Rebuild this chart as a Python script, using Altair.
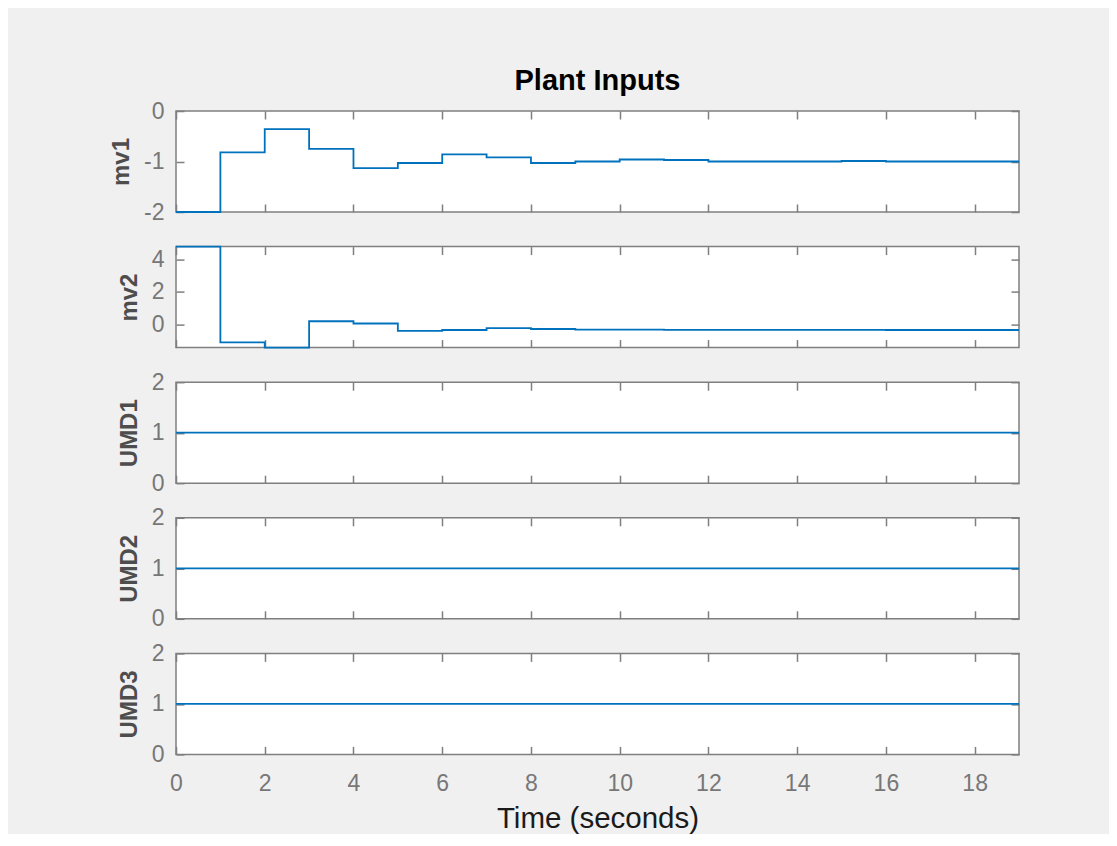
import altair as alt
import pandas as pd

# ---- data ----
t = [0, 1, 2, 3, 4, 5, 6, 7, 8, 9, 10, 11, 12, 13, 14, 15, 16, 17, 18, 19]
mv1 = [-2.0, -0.82, -0.36, -0.75, -1.13, -1.03, -0.86, -0.92, -1.03, -1.0,
       -0.96, -0.97, -1.0, -1.0, -1.0, -0.99, -1.0, -1.0, -1.0, -1.0]
mv2 = [4.8, -1.13, -1.45, 0.18, 0.04, -0.42, -0.36, -0.24, -0.30, -0.34,
       -0.34, -0.35, -0.35, -0.35, -0.35, -0.35, -0.36, -0.36, -0.36, -0.36]
umd1 = [1, 1, 1, 1, 1, 1, 1, 1, 1, 1, 1, 1, 1, 1, 1, 1, 1, 1, 1, 1]
umd2 = [1, 1, 1, 1, 1, 1, 1, 1, 1, 1, 1, 1, 1, 1, 1, 1, 1, 1, 1, 1]
umd3 = [1, 1, 1, 1, 1, 1, 1, 1, 1, 1, 1, 1, 1, 1, 1, 1, 1, 1, 1, 1]

names = ["mv1", "mv2", "UMD1", "UMD2", "UMD3"]
y_domains = {"mv1": [-2, 0], "mv2": [-1.45, 4.8], "UMD1": [0, 2], "UMD2": [0, 2], "UMD3": [0, 2]}
y_ticks = {"mv1": [-2, -1, 0], "mv2": [0, 2, 4], "UMD1": [0, 1, 2], "UMD2": [0, 1, 2], "UMD3": [0, 1, 2]}
x_domain = [0, 19]
x_ticks = [0, 2, 4, 6, 8, 10, 12, 14, 16, 18]

df = pd.DataFrame({"t": t, "mv1": mv1, "mv2": mv2, "UMD1": umd1, "UMD2": umd2, "UMD3": umd3})

GRAY = "#7f7f7f"
TICK = 8
FONT = "Liberation Sans"
W, H = 843, 101
LABEL_EXPR = "'' + datum.value"


def panel(name, first, last):
    xscale = alt.Scale(domain=x_domain, nice=False, zero=False)
    yscale = alt.Scale(domain=y_domains[name], nice=False, zero=False)
    xkw = dict(orient="bottom", values=x_ticks, domain=False, grid=False,
               tickSize=TICK, offset=-TICK, labels=last, labelFlush=False,
               labelPadding=18, labelExpr=LABEL_EXPR)
    if last:
        xkw.update(title="Time (seconds)", titleFontSize=29.5, titleFontWeight="normal",
                   titleColor="#1a1a1a", titlePadding=9)
    else:
        xkw.update(title=None)
    x_main = alt.Axis(**xkw)
    y_main = alt.Axis(orient="left", values=y_ticks[name], domain=False, grid=False,
                      tickSize=TICK, offset=-TICK, labelFlush=False, labelPadding=12,
                      labelExpr=LABEL_EXPR,
                      title=name, titleFontSize=24, titleFontWeight="bold",
                      titleColor="#4d4d4d", titlePadding=10)
    x_top = alt.Axis(orient="top", values=x_ticks, domain=False, grid=False,
                     tickSize=TICK, offset=-TICK, labels=False, title=None)
    y_right = alt.Axis(orient="right", values=y_ticks[name], domain=False, grid=False,
                       tickSize=TICK, offset=-TICK, labels=False, title=None)

    line = alt.Chart(df).mark_line(interpolate="step-after", color="#0072BD",
                                   strokeWidth=1.8).encode(
        x=alt.X("t:Q", scale=xscale, axis=x_main),
        y=alt.Y(f"{name}:Q", scale=yscale, axis=y_main),
    )
    ghost = alt.Chart(df).mark_line(interpolate="step-after", opacity=0).encode(
        x=alt.X("t:Q", scale=xscale, axis=x_top),
        y=alt.Y(f"{name}:Q", scale=yscale, axis=y_right),
    )
    lay = alt.layer(line, ghost).resolve_axis(x="independent", y="independent")
    if first:
        lay = lay.properties(width=W, height=H,
                             title=alt.TitleParams("Plant Inputs", fontSize=29,
                                                   fontWeight="bold", color="#000000",
                                                   anchor="middle", offset=4))
    else:
        lay = lay.properties(width=W, height=H)
    return lay


panels = [panel(n, i == 0, i == len(names) - 1) for i, n in enumerate(names)]

chart = alt.vconcat(*panels, spacing=34.6, bounds="flush").properties(
    padding={"left": 100, "top": 58, "right": 85, "bottom": 0},
    background="#f0f0f0",
).configure_view(
    stroke=GRAY, strokeWidth=1.5, fill="white"
).configure_axis(
    tickColor=GRAY, tickWidth=1.5, labelColor="#777777", labelFont=FONT,
    labelFontSize=23, titleFont=FONT
).configure_title(font=FONT)

chart.save("out.html", embed_options={"renderer": "svg", "actions": False})
